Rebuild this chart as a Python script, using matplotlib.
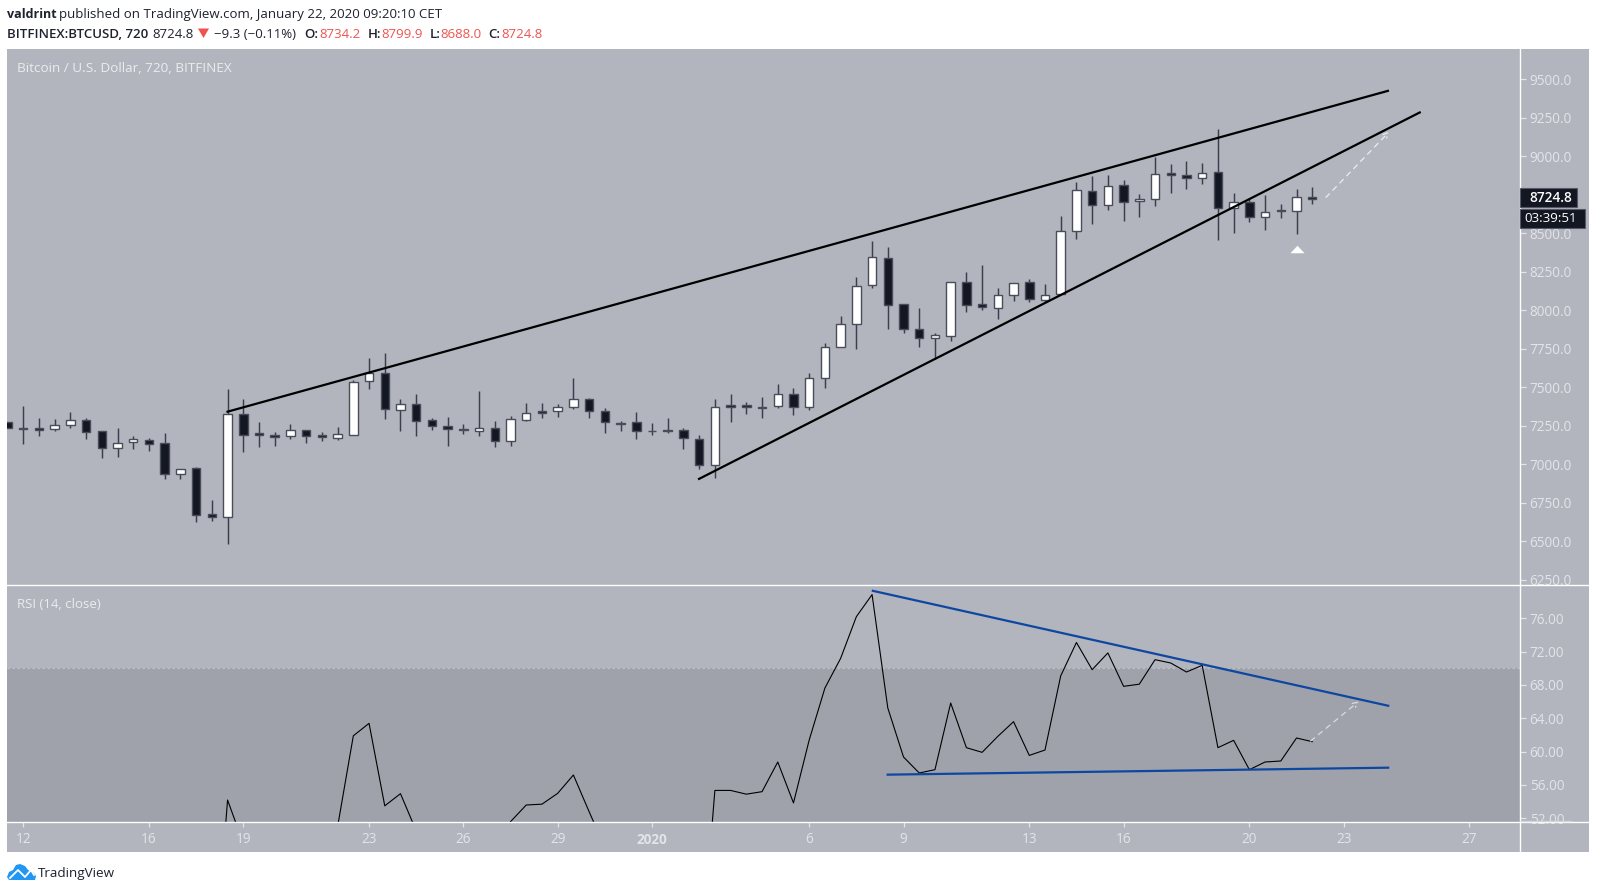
import matplotlib
matplotlib.use("Agg")
import matplotlib.pyplot as plt
from matplotlib.patches import Rectangle, Polygon
from matplotlib.path import Path

W, H = 1597, 893

# ---- data -------------------------------------------------------------
first_index = -1
opens = [7276,7237,7233,7227,7257,7289,7216,7105,7142,7159,7138,6934,6973,6675,6655,7328,7201,7188,7185,7224,7188,7170,7192,7542,7594,7350,7393,7287,7250,7231,7214,7237,7149,7289,7344,7344,7370,7422,7344,7268,7272,7218,7224,7222,7166,6993,7383,7383,7373,7376,7458,7370,7558,7763,7909,8164,8337,8042,7880,7820,7835,8185,8039,8013,8099,8182,8068,8104,8513,8774,8683,8811,8708,8721,8889,8880,8857,8896,8662,8703,8606,8653,8643,8734.2]
highs = [7276,7378,7298,7292,7339,7298,7216,7233,7183,7168,7201,6971,6980,6768,7487,7424,7274,7211,7261,7224,7211,7240,7547,7688,7724,7425,7454,7298,7305,7259,7475,7283,7313,7396,7396,7391,7560,7430,7367,7283,7337,7266,7298,7233,7188,7425,7456,7402,7435,7519,7497,7590,7789,7961,8218,8448,8409,8042,8013,7854,8185,8246,8292,8146,8179,8201,8169,8612,8831,8872,8876,8846,8755,8997,8948,8967,8954,9175,8760,8721,8747,8690,8787,8799.9]
lows = [7233,7133,7183,7218,7237,7162,7038,7049,7097,7088,6906,6906,6627,6633,6484,7081,7112,7118,7166,7140,7153,7157,7192,7488,7292,7218,7183,7224,7120,7198,7183,7110,7118,7283,7302,7309,7361,7302,7205,7218,7162,7190,7205,7097,6967,6912,7276,7326,7302,7367,7318,7354,7497,7763,7748,8146,7876,7854,7761,7681,7802,7991,8004,7945,8062,8055,8052,8104,8461,8560,8651,8582,8604,8675,8763,8789,8818,8456,8504,8575,8519,8601,8497,8688.0]
closes = [7233,7229,7224,7257,7287,7207,7105,7136,7166,7133,6934,6971,6668,6655,7328,7192,7192,7179,7220,7183,7179,7194,7536,7592,7357,7393,7279,7248,7227,7220,7237,7149,7294,7335,7335,7372,7422,7344,7272,7263,7214,7214,7214,7170,6993,7372,7373,7372,7363,7458,7370,7558,7763,7909,8159,8344,8034,7878,7822,7837,8185,8034,8019,8101,8179,8071,8101,8517,8781,8683,8809,8705,8724,8887,8878,8857,8893,8662,8701,8606,8638,8643,8737,8724.8]

rsi_first = 12
rsi_values = [30,54.2,49,46.5,46,45.5,46,47,51,61.9,63.4,53.5,54.96,50.5,49,48.5,48,47.5,47,51.6,53.6,53.7,55,57.2,52.8,48.5,47.5,47,46,45.5,45,32,55.35,55.35,54.9,55.2,58.76,53.85,61.4,67.64,71.2,76.2,78.85,65.24,59.36,57.44,57.84,65.84,60.48,59.92,61.84,63.6,59.55,60.2,69.1,73.1,69.84,71.85,67.84,68.1,71.04,70.64,69.56,70.36,60.48,61.36,57.84,58.76,58.88,61.64,61.2]

price_ticks = [6250,6500,6750,7000,7250,7500,7750,8000,8250,8500,8750,9000,9250,9500]
rsi_ticks = [52,56,60,64,68,72,76]
date_ticks = [0,8,14,22,28,34,40,50,56,64,70,78,84,92]
date_labels = ["12","16","19","23","26","29","2020","6","9","13","16","20","23","27"]

wedge_upper_x, wedge_upper_y = [12.93, 86.88], [7339, 9427]
wedge_lower_x, wedge_lower_y = [42.93, 88.9], [6901, 9288]
price_arrow_x, price_arrow_y = [82.87, 86.9], [8733, 9160]
rsi_upper_x, rsi_upper_y = [53.98, 86.9], [79.33, 65.48]
rsi_lower_x, rsi_lower_y = [54.92, 86.9], [57.24, 58.08]
rsi_arrow_x, rsi_arrow_y = [81.9, 84.96], [61.28, 66.04]
marker_x, marker_y = 81, 8398

# ---- style ------------------------------------------------------------
BG = "#B2B5BE"
LOW = "#9FA2AA"
DARK = "#131722"
EDGE = "#4A4D59"
WICK = "#3C3F4B"
TXT = "#E3E4E9"
RED = "#EF5350"
INK = "#1E222D"
plt.rcParams["font.family"] = ["Open Sans", "DejaVu Sans"]

fig = plt.figure(figsize=(W / 100, H / 100), dpi=100, facecolor="white")


def box(l, t, r, b, **kw):
    return fig.add_axes([l / W, 1 - b / H, (r - l) / W, (b - t) / H], **kw)


def label(x, y, s, **kw):
    kw.setdefault("va", "center")
    kw.setdefault("ha", "left")
    return fig.text(x / W, 1 - y / H, s, **kw)


L, R = 7.5, 1520
X_LIM = ((L - 23.2) / 15.72, (R - 23.2) / 15.72)
fig.patches.append(Rectangle((L / W, 1 - 852 / H), (1589 - L) / W, 803 / H, transform=fig.transFigure, facecolor=BG, edgecolor="none", zorder=-5))

ax = box(L, 49, R, 585)
rx = box(L, 585, R, 822)
tx = box(L, 822, R, 852)

for a in (ax, rx, tx):
    a.set_facecolor(BG)
    a.set_xlim(*X_LIM)
    for s in a.spines.values():
        s.set_visible(False)
    a.spines["right"].set_visible(True)
    a.spines["right"].set_color("white")
    a.spines["right"].set_linewidth(1.0)
    a.yaxis.tick_right()
    a.tick_params(axis="y", length=4, width=0.9, color=TXT, labelcolor=TXT, labelsize=9.8, pad=3)
    a.set_xticks([])
tx.set_zorder(3)

# white separators run on across the price scale
for yy in (585, 822):
    fig.add_artist(plt.Line2D([L / W, 1589 / W], [1 - yy / H] * 2, transform=fig.transFigure, color="white", lw=1.0, zorder=5))
fig.add_artist(plt.Line2D([1521 / W, 1571 / W], [1 - 820.8 / H] * 2, transform=fig.transFigure, color="#D3D5DB", lw=1.0, zorder=5))

# price pane
ax.set_ylim(6215, 9697)
ax.set_yticks(price_ticks)
ax.set_yticklabels([f"{v:.1f}" for v in price_ticks])

idx = [first_index + i for i in range(len(closes))]
ax.vlines(idx, lows, highs, color=WICK, linewidth=1.05, zorder=2)
for i, o, c in zip(idx, opens, closes):
    up = c >= o
    ax.bar(i, abs(c - o), bottom=min(o, c), width=0.54, facecolor="white" if up else DARK,
           edgecolor=EDGE, linewidth=1.0, zorder=3)

ax.plot(wedge_upper_x, wedge_upper_y, color="black", lw=1.6, zorder=4, solid_capstyle="butt")
ax.plot(wedge_lower_x, wedge_lower_y, color="black", lw=1.6, zorder=4, solid_capstyle="butt")
ax.annotate("", xy=(price_arrow_x[1], price_arrow_y[1]), xytext=(price_arrow_x[0], price_arrow_y[0]),
            arrowprops=dict(arrowstyle="->", color="#ECEDF0", lw=0.9, linestyle=(0, (4, 4)), shrinkA=0, shrinkB=0, mutation_scale=9), zorder=4)
tri = Path([(-1, -0.53), (1, -0.53), (0, 0.53), (-1, -0.53)], closed=True)
ax.plot([marker_x], [marker_y], marker=tri, ms=10.2, color="white", mec="none", zorder=4)

# RSI pane
rx.set_ylim(51.56, 80)
rx.set_yticks(rsi_ticks)
rx.set_yticklabels([f"{v:.2f}" for v in rsi_ticks])
rx.axhspan(51.56, 70, color=LOW, lw=0, zorder=1)
rx.axhline(70, color="#BDBFC6", lw=0.9, ls=(0, (2, 2)), zorder=2)
rx.plot([rsi_first + i for i in range(len(rsi_values))], rsi_values, color="black", lw=0.8, zorder=3)
rx.plot(rsi_upper_x, rsi_upper_y, color="#0D47A1", lw=1.6, zorder=4, solid_capstyle="butt")
rx.plot(rsi_lower_x, rsi_lower_y, color="#0D47A1", lw=1.6, zorder=4, solid_capstyle="butt")
rx.annotate("", xy=(rsi_arrow_x[1], rsi_arrow_y[1]), xytext=(rsi_arrow_x[0], rsi_arrow_y[0]),
            arrowprops=dict(arrowstyle="->", color="#DADBE0", lw=0.9, linestyle=(0, (4, 4)), shrinkA=0, shrinkB=0, mutation_scale=9), zorder=4)

# time axis
tx.set_ylim(0, 1)
tx.set_yticks([])
tx.xaxis.tick_top()
tx.set_xticks(date_ticks)
tx.set_xticklabels(date_labels)
tx.tick_params(axis="x", direction="in", length=3.5, width=0.9, color=TXT, labelcolor=TXT, labelsize=9.8, pad=-18)
for t, s in zip(tx.get_xticklabels(), date_labels):
    if s == "2020":
        t.set_fontweight("bold")

# legends in panes
label(17, 68.5, "Bitcoin / U.S. Dollar, 720, BITFINEX", color="#EBECEF", fontsize=9.7)
label(17, 605, "RSI (14, close)", color="#EBECEF", fontsize=9.5)

# last price and countdown boxes
fig.patches.append(Rectangle((1520 / W, 1 - 207.3 / H), 57 / W, 19.6 / H, transform=fig.transFigure, facecolor=DARK, edgecolor="#555866", lw=0.8, zorder=4))
fig.patches.append(Rectangle((1520 / W, 1 - 228.3 / H), 65 / W, 19.3 / H, transform=fig.transFigure, facecolor=DARK, edgecolor="#555866", lw=0.8, zorder=4))
label(1529, 197.5, "8724.8", color="white", fontsize=9.8, zorder=6, fontweight="semibold")
label(1524, 218.5, "03:39:51", color="white", fontsize=9.6, zorder=6)

# header
HS = 9.5
label(7, 14.5, "valdrint", color=INK, fontsize=9.0, fontweight="bold")
label(59, 14.5, "published on TradingView.com, January 22, 2020 09:20:10 CET", color=INK, fontsize=HS)
label(7, 34.5, "BITFINEX:BTCUSD, 720", color=INK, fontsize=HS, fontweight="semibold")
label(152.5, 34.5, "8724.8", color=INK, fontsize=HS)
fig.patches.append(Polygon([(198 / W, 1 - 28.5 / H), (209 / W, 1 - 28.5 / H), (203.5 / W, 1 - 38 / H)], closed=True,
                           transform=fig.transFigure, facecolor=RED, edgecolor="none"))
label(214, 34.5, "\u22129.3 (\u22120.11%)", color=INK, fontsize=HS)
for x, s, vx, v in [(304, "O:", 319, "8734.2"), (368, "H:", 381, "8799.9"), (430, "L:", 440, "8688.0"), (488.6, "C:", 501.4, "8724.8")]:
    label(x, 34.5, s, color=INK, fontsize=HS, fontweight="semibold")
    label(vx, 34.5, v, color=RED, fontsize=HS)

# footer
BLUE = "#2196F3"
fig.patches.append(Polygon([(p[0] / W, 1 - p[1] / H) for p in
                            [(7, 877), (9, 872), (13, 870), (16, 865), (20, 864), (25, 866), (28, 870), (33, 872), (36, 876), (35, 880), (9, 880)]],
                           closed=True, transform=fig.transFigure, facecolor=BLUE, edgecolor="none"))
fig.add_artist(plt.Line2D([p / W for p in (10, 18, 25, 31, 34)], [1 - p / H for p in (878, 870, 877, 870, 875)],
                          transform=fig.transFigure, color="white", lw=1.3))
label(38, 873, "TradingView", color=INK, fontsize=9.7)

fig.savefig("out.png", dpi=100, facecolor="white")
